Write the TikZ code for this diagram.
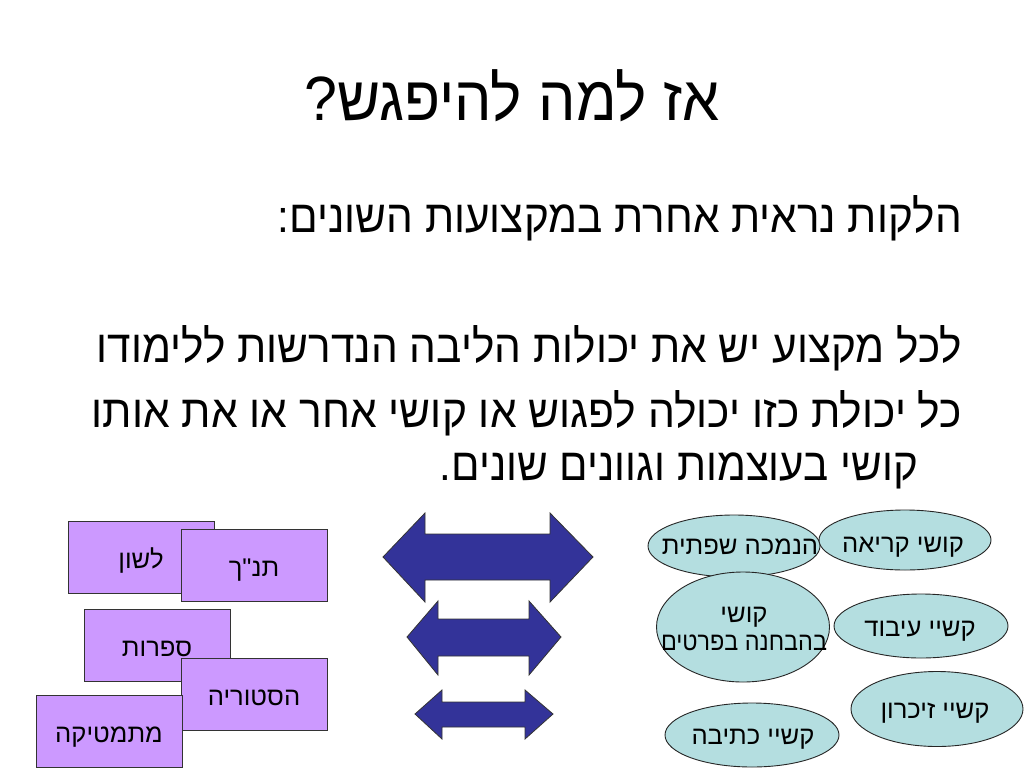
\documentclass[tikz,border=0pt]{standalone}
\usepackage{fontspec}
\usetikzlibrary{shapes.geometric}
\TeXXeTstate=1
\newfontfamily\heb[Script=Hebrew]{Liberation Sans}
\newcommand\RL[1]{{\heb\beginR #1\endR}}
\newlength\fitlen
\newcommand\fitw[2]{\settowidth\fitlen{#2}\pgfmathsetmacro\fitsx{#1/\fitlen}\scalebox{\fitsx}[1]{#2}}
\definecolor{lav}{HTML}{CC99FF}
\definecolor{ovalfill}{RGB}{180,222,224}
\definecolor{arrowblue}{HTML}{333399}
\begin{document}
\begin{tikzpicture}[x=1pt,y=-1pt,
  subj/.style={draw=black!80, line width=0.9pt, fill=lav, rectangle, inner sep=0pt,
    minimum width=146pt, minimum height=72pt},
  oval/.style={draw=black!85, line width=0.9pt, fill=ovalfill, ellipse, inner sep=0pt},
  lbl/.style={font=\heb\fontsize{25.6}{28}\selectfont, inner sep=0pt, anchor=base},
  dblarrow/.style={draw=black!80, line width=0.8pt, fill=arrowblue, line join=miter},
  body/.style={font=\heb\fontsize{45.5}{50}\selectfont, inner sep=0pt, anchor=base east}]
\useasboundingbox[fill=white] (0,0) rectangle (1024,768);

% title
\node[font=\heb\fontsize{62.6}{70}\selectfont, anchor=base, inner sep=0pt] (title) at (512,120)
  {\fitw{415pt}{\RL{אז למה להיפגש?}}};

% body text
\node[body] (l1) at (962,232) {\fitw{684pt}{\RL{הלקות נראית אחרת במקצועות השונים:}}};
\node[body] (l2) at (962,362) {\fitw{865pt}{\RL{לכל מקצוע יש את יכולות הליבה הנדרשות ללימודו}}};
\node[body] (l3) at (962,427) {\fitw{870pt}{\RL{כל יכולת כזו יכולה לפגוש או קושי אחר או את אותו}}};
\node[body] (l4) at (918,480) {\fitw{478pt}{\RL{קושי בעוצמות וגוונים שונים.}}};

% subject boxes
\node[subj] (lashon) at (141,557) {};
\node[lbl] (lashonT) at ([yshift=-11pt]lashon.center) {\RL{לשון}};
\node[subj] (tanach) at (254,565) {};
\node[lbl] (tanachT) at ([yshift=-11pt]tanach.center) {\RL{תנ"ך}};
\node[subj] (sifrut) at (157,645) {};
\node[lbl] (sifrutT) at ([yshift=-11pt]sifrut.center) {\RL{ספרות}};
\node[subj] (history) at (254,694) {};
\node[lbl] (historyT) at ([yshift=-11pt]history.center) {\RL{הסטוריה}};
\node[subj] (math) at (109,731) {};
\node[lbl] (mathT) at ([yshift=-11pt]math.center) {\RL{מתמטיקה}};

% double arrows
\draw[dblarrow] (383,557) -- (425,513) -- (425,534) -- (550,534) -- (550,513) -- (593,557)
  -- (550,602) -- (550,580) -- (425,580) -- (425,602) -- cycle;
\draw[dblarrow] (407,637) -- (438,601) -- (438,619) -- (529,619) -- (529,601) -- (561,637)
  -- (529,675) -- (529,656) -- (438,656) -- (438,675) -- cycle;
\draw[dblarrow] (415,714) -- (442,690) -- (442,702) -- (525,702) -- (525,690) -- (553,714)
  -- (525,739) -- (525,727) -- (442,727) -- (442,739) -- cycle;

% difficulty ovals
\node[oval, minimum width=172pt, minimum height=62pt] (e1) at (734,546) {};
\node[oval, minimum width=172pt, minimum height=60pt] (e2) at (905,540) {};
\node[oval, minimum width=173pt, minimum height=110pt] (e3) at (743,627) {};
\node[oval, minimum width=174pt, minimum height=64pt] (e4) at (921,626) {};
\node[oval, minimum width=172pt, minimum height=75pt] (e5) at (937,709) {};
\node[oval, minimum width=174pt, minimum height=64pt] (e6) at (752,735) {};

\node[lbl] (t1) at (740,554) {\RL{הנמכה שפתית}};
\node[lbl] (t2) at (903,552) {\RL{קושי קריאה}};
\node[lbl] (t3a) at (744,622) {\RL{קושי}};
\node[lbl] (t3b) at (744,650) {\fitw{166pt}{\RL{בהבחנה בפרטים}}};
\node[lbl] (t4) at (920,636) {\RL{קשיי עיבוד}};
\node[lbl] (t5) at (935,718) {\RL{קשיי זיכרון}};
\node[lbl] (t6) at (753,744) {\RL{קשיי כתיבה}};
\end{tikzpicture}
\end{document}
